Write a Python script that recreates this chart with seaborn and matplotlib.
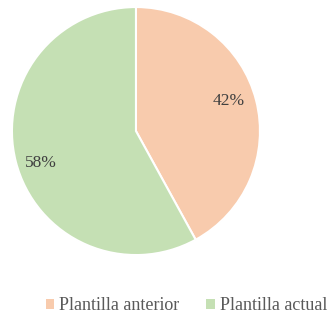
import matplotlib
matplotlib.use("Agg")
import matplotlib.pyplot as plt
import seaborn as sns
from matplotlib.patches import Patch

sns.set_theme(style="white")
plt.rcParams['font.family'] = ['Liberation Serif', 'DejaVu Serif']

categories = ["Plantilla anterior", "Plantilla actual"]
values = [42, 58]
colors = ["#F8CBAD", "#C5E0B4"]

fig = plt.figure(figsize=(3.3, 3.2), dpi=100)
ax = fig.add_axes([0.036, 0.203, 0.752, 0.775])
wedges, texts, autotexts = ax.pie(
    values, colors=colors, startangle=90, counterclock=False,
    autopct=lambda p: f"{p:.0f}%", pctdistance=0.8,
    wedgeprops=dict(edgecolor="white", linewidth=1.5),
    textprops=dict(fontsize=12.5, color="#404040"),
)
# nudge the percentage labels slightly along their wedges
autotexts[0].set_position((0.75, 0.24))
autotexts[1].set_position((-0.77, -0.26))
ax.set_xlim(-1, 1)
ax.set_ylim(-1, 1)
ax.set_aspect("equal")

handles = [Patch(facecolor=c, edgecolor="none") for c in colors]
fig.legend(handles, categories, loc="center", bbox_to_anchor=(0.565, 0.045),
           ncol=2, frameon=False, fontsize=13, handlelength=0.45, handleheight=0.45,
           handletextpad=0.3, columnspacing=1.5, labelcolor="#595959",
           borderpad=0.0, borderaxespad=0.0)

fig.savefig("out.png", dpi=100)
